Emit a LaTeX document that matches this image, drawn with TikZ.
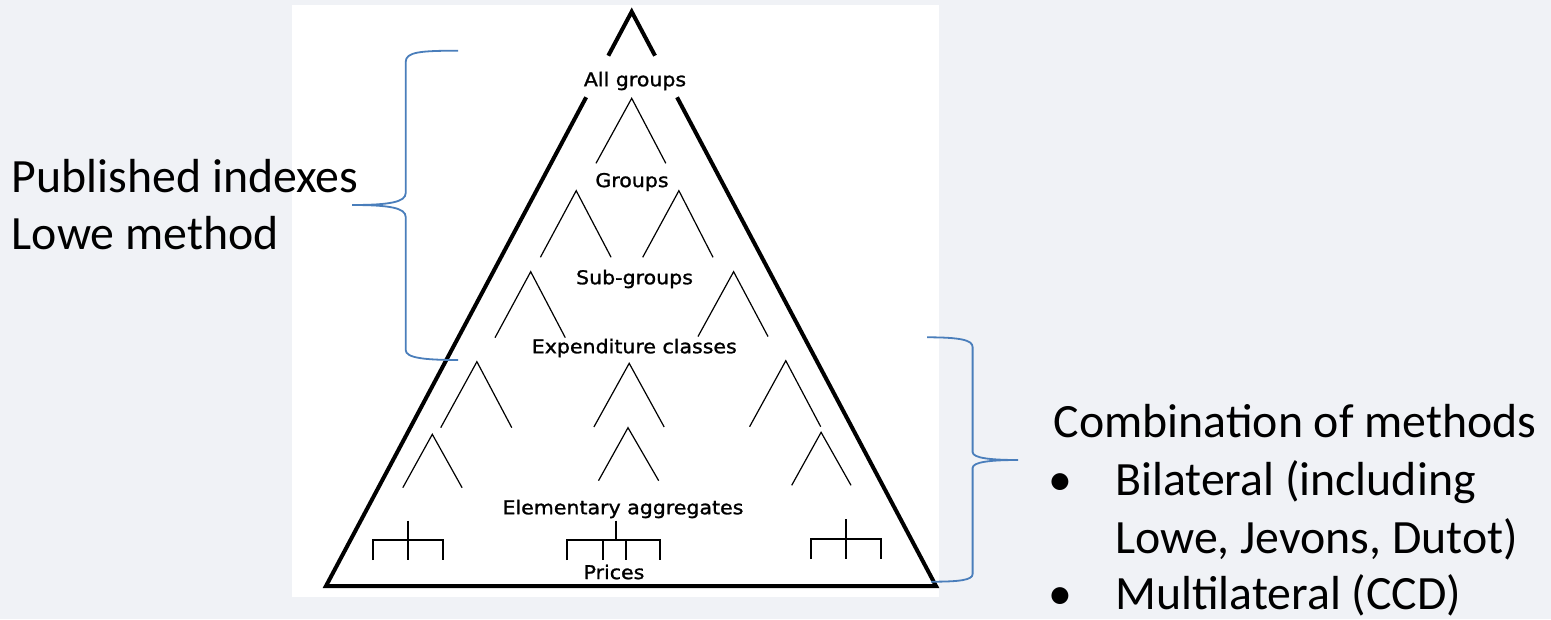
\documentclass[tikz,border=0pt]{standalone}
\usepackage{fontspec}
\setmainfont{Carlito}
\newfontfamily\labfont[FakeStretch=1.08,FakeBold=1.3]{DejaVu Sans}
\usetikzlibrary{calc}
\definecolor{bg}{HTML}{F0F2F6}
\definecolor{braceblue}{HTML}{4A7EBB}
\begin{document}
\begin{tikzpicture}[x=1pt,y=-1pt,
  thickline/.style={line width=4pt, line join=miter},
  treeline/.style={line width=1.2pt},
  bracketline/.style={line width=2pt},
  bracepath/.style={draw=braceblue, line width=1.8pt},
  lvl/.style={font=\labfont\fontsize{19}{23}\selectfont, inner sep=0pt},
  big/.style={font=\fontsize{47.8}{57}\selectfont, inner sep=0pt, anchor=base west}]
\useasboundingbox (0,0) rectangle (1551,619);
\fill[bg] (0,0) rectangle (1551,619);
\fill[white] (292,5) rectangle (939,597);

% outer triangle
\coordinate (A) at (631.7,11.7);
\coordinate (L) at (326,586);
\coordinate (R) at (936,586);
\draw[thickline] ($(A)!0.0766!(L)$) -- (A) -- ($(A)!0.0766!(R)$);
\draw[thickline] ($(A)!0.149!(L)$) -- (L) -- (R) -- ($(A)!0.149!(R)$);

% level labels
\node[lvl] (allg) at (635,81) {All groups};
\node[lvl] (grp) at (632,182) {Groups};
\node[lvl] (sub) at (634.5,279) {Sub-groups};
\node[lvl] (exp) at (634.3,348) {Expenditure classes};
\node[lvl] (ele) at (623,509) {Elementary aggregates};
\node[lvl] (pri) at (614,572) {Prices};

% small trees
\draw[treeline] (596,163.3) -- (631.7,98.3) -- (665.8,163.3);
\draw[treeline] (540.4,257.3) -- (576.2,190.7) -- (611.1,257.3);
\draw[treeline] (642.7,257.3) -- (678.9,190.7) -- (713,257.3);
\draw[treeline] (495,337.7) -- (530.7,271.7) -- (565.3,337.7);
\draw[treeline] (698,336.5) -- (733.6,271.7) -- (768,336.5);
\draw[treeline] (440.7,427.7) -- (476.9,361.7) -- (511.8,427.7);
\draw[treeline] (593.9,427) -- (629.2,363.3) -- (664.2,427);
\draw[treeline] (749.6,426.7) -- (785.8,360.7) -- (820.7,426.7);
\draw[treeline] (402.8,487.7) -- (432.3,434.3) -- (462.1,487.7);
\draw[treeline] (598.5,480.7) -- (628,427.7) -- (658.7,480.7);
\draw[treeline] (791.7,485.3) -- (821.1,432.3) -- (851,485.3);

% price brackets
\draw[bracketline] (408,520.5) -- (408,560);
\draw[bracketline] (373,560) -- (373,540) -- (443,540) -- (443,560);
\draw[bracketline] (615.5,520.7) -- (615.5,540);
\draw[bracketline] (567,560) -- (567,540) -- (660,540) -- (660,560);
\draw[bracketline] (603,540) -- (603,560);
\draw[bracketline] (626,540) -- (626,560);
\draw[bracketline] (846,519) -- (846,559);
\draw[bracketline] (810.6,559) -- (810.6,539) -- (880.5,539) -- (880.5,559);

% left brace
\draw[bracepath] (458,50.7) .. controls (420,50.7) and (405.7,52) .. (405.7,62)
  -- (405.7,193) .. controls (405.7,202) and (390,205) .. (352,205)
  .. controls (390,205) and (405.7,208) .. (405.7,217)
  -- (405.7,350) .. controls (405.7,358) and (425,360) .. (458,360);

% right brace
\draw[bracepath] (927,337.3) .. controls (960,337.3) and (972.6,340) .. (972.6,347)
  -- (972.6,452) .. controls (972.6,458) and (990,460) .. (1018,460)
  .. controls (990,460) and (972.6,462) .. (972.6,468)
  -- (972.6,574) .. controls (972.6,580) and (960,581.7) .. (931,581.7);

% side texts
\node[big] (pub) at (11.7,192.7) {Published indexes};
\node[big] (lowe) at (11.7,249) {Lowe method};
\node[big] (comb) at (1053.6,437) {Combination of methods};
\node[big, anchor=base] (b1) at (1060,495.7) {•};
\node[big] (bil) at (1115,495.7) {Bilateral (including};
\node[big] (bil2) at (1115,553) {Lowe, Jevons, Dutot)};
\node[big, anchor=base] (b2) at (1060,609) {•};
\node[big] (mul) at (1115,609) {Multilateral (CCD)};
\end{tikzpicture}
\end{document}
